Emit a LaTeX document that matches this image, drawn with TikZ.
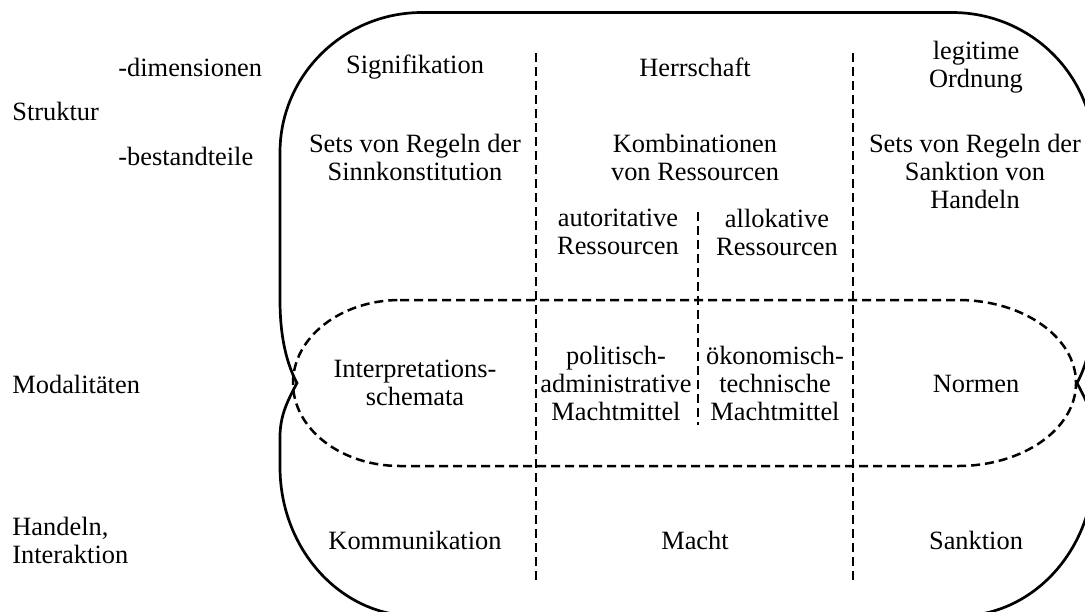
\documentclass[tikz,border=0pt]{standalone}
\usepackage{fontspec}
\setmainfont{Liberation Serif}

\begin{document}
\begin{tikzpicture}[
    x=0.5pt, y=-0.5pt,
    cell/.style={font=\fontsize{13.2}{14}\selectfont, align=center, inner sep=0pt},
    rowname/.style={cell, anchor=west, align=left},
    outline/.style={line width=1.35pt},
    divider/.style={line width=1.25pt, dash pattern=on 4.5pt off 2.5pt}
]
    \useasboundingbox (0,0) rectangle (1085,611);

    % Outer solid contour (Struktur + Handeln, pinched at the Modalitaeten row)
    \draw[outline] (422,12.5) -- (952,12.5)
        .. controls (1030.4,12.5) and (1094,75.2) .. (1094,152.5) -- (1094,300)
        .. controls (1094,345) and (1084,370) .. (1077,383)
        .. controls (1086,400) and (1094,415) .. (1094,437) -- (1094,467)
        .. controls (1094,549) and (1033.5,616) .. (959,616) -- (415,616)
        .. controls (340.5,616) and (280,549) .. (280,467) -- (280,437)
        .. controls (280,415) and (288,400) .. (297,383)
        .. controls (290,370) and (280,345) .. (280,300) -- (280,152.5)
        .. controls (280,75.2) and (343.6,12.5) .. (422,12.5) -- cycle;

    % Dashed contour of the Modalitaeten row
    \draw[divider] (400,300) -- (958,300)
        .. controls (1023.2,300) and (1076,337.2) .. (1076,383)
        .. controls (1076,428.8) and (1023.2,466) .. (958,466) -- (400,466)
        .. controls (341,466) and (293,428.8) .. (293,383)
        .. controls (293,337.2) and (341,300) .. (400,300) -- cycle;

    % Column dividers
    \draw[divider] (536,53) -- (536,581);
    \draw[divider] (853,53) -- (853,581);
    \draw[divider] (698,212) -- (698,425);

    % Row names
    \node[rowname] (dim) at (118,67) {-dimensionen};
    \node[rowname] (struktur) at (12,111) {Struktur};
    \node[rowname] (bestand) at (118,156) {-bestandteile};
    \node[rowname] (modal) at (12,384) {Modalitäten};
    \node[rowname] (handeln) at (12,540) {Handeln,\\Interaktion};

    % Structure dimensions
    \node[cell] (sig) at (415,67) {Signifikation};
    \node[cell] (herr) at (695,67) {Herrschaft};
    \node[cell] (legit) at (976,67) {legitime\\Ordnung};

    % Structure components
    \node[cell] (sinn) at (415,157) {Sets von Regeln der\\Sinnkonstitution};
    \node[cell] (komb) at (695,157) {Kombinationen\\von Ressourcen};
    \node[cell] (sankregel) at (975,171) {Sets von Regeln der\\Sanktion von\\Handeln};
    \node[cell] (auto) at (618,232) {autoritative\\Ressourcen};
    \node[cell] (allok) at (777,232) {allokative\\Ressourcen};

    % Modalities
    \node[cell] (interp) at (415,383) {Interpretations-\\schemata};
    \node[cell] (polit) at (616,383) {politisch-\\administrative\\Machtmittel};
    \node[cell] (oekon) at (775,383) {ökonomisch-\\technische\\Machtmittel};
    \node[cell] (normen) at (976,384) {Normen};

    % Interaction
    \node[cell] (komm) at (415,540) {Kommunikation};
    \node[cell] (macht) at (695,540) {Macht};
    \node[cell] (sanktion) at (976,540) {Sanktion};
\end{tikzpicture}
\end{document}
